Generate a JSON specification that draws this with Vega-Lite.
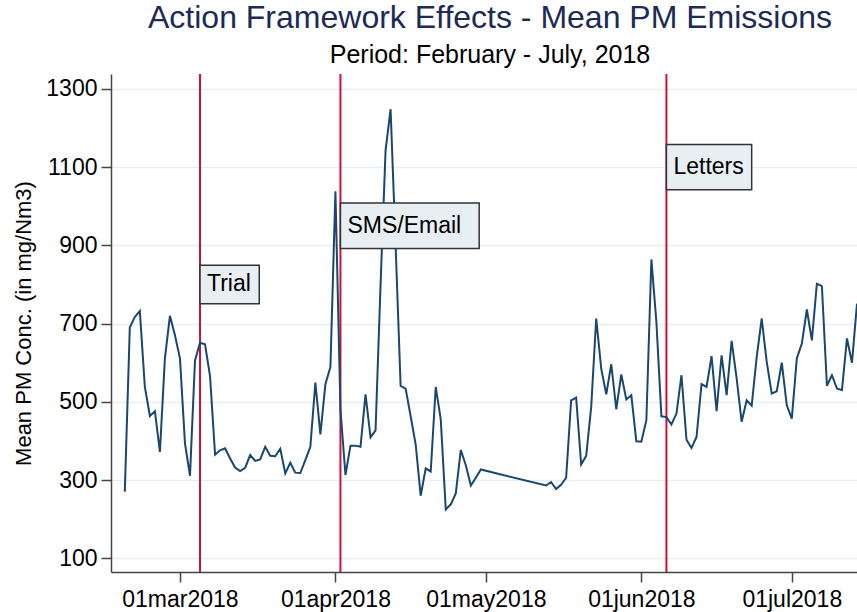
{
  "$schema": "https://vega.github.io/schema/vega-lite/v6.json",
  "width": 746,
  "height": 498,
  "autosize": {"type": "none"},
  "padding": {"left": 111, "top": 74, "right": 0, "bottom": 40},
  "background": "white",
  "config": {"view": {"stroke": null}, "font": "Liberation Sans"},
  "title": {
    "text": "Action Framework Effects - Mean PM Emissions",
    "subtitle": "Period: February - July, 2018",
    "fontSize": 32,
    "fontWeight": "normal",
    "color": "#1c2a55",
    "subtitleFontSize": 25,
    "subtitleColor": "#000000",
    "subtitlePadding": 8,
    "anchor": "middle",
    "offset": 4,
    "dx": 6
  },
  "datasets": {
    "pm": [
      {"date": "2018-02-18", "pm": 270}, {"date": "2018-02-19", "pm": 690}, {"date": "2018-02-20", "pm": 717},
      {"date": "2018-02-21", "pm": 732}, {"date": "2018-02-22", "pm": 538}, {"date": "2018-02-23", "pm": 464},
      {"date": "2018-02-24", "pm": 476}, {"date": "2018-02-25", "pm": 372}, {"date": "2018-02-26", "pm": 611},
      {"date": "2018-02-27", "pm": 720}, {"date": "2018-02-28", "pm": 670}, {"date": "2018-03-01", "pm": 611},
      {"date": "2018-03-02", "pm": 394}, {"date": "2018-03-03", "pm": 311}, {"date": "2018-03-04", "pm": 606},
      {"date": "2018-03-05", "pm": 651}, {"date": "2018-03-06", "pm": 647}, {"date": "2018-03-07", "pm": 565},
      {"date": "2018-03-08", "pm": 365}, {"date": "2018-03-09", "pm": 376}, {"date": "2018-03-10", "pm": 381},
      {"date": "2018-03-11", "pm": 355}, {"date": "2018-03-12", "pm": 332}, {"date": "2018-03-13", "pm": 323},
      {"date": "2018-03-14", "pm": 331}, {"date": "2018-03-15", "pm": 364}, {"date": "2018-03-16", "pm": 349},
      {"date": "2018-03-17", "pm": 353}, {"date": "2018-03-18", "pm": 385}, {"date": "2018-03-19", "pm": 362},
      {"date": "2018-03-20", "pm": 361}, {"date": "2018-03-21", "pm": 380}, {"date": "2018-03-22", "pm": 317},
      {"date": "2018-03-23", "pm": 344}, {"date": "2018-03-24", "pm": 319}, {"date": "2018-03-25", "pm": 318},
      {"date": "2018-03-26", "pm": 351}, {"date": "2018-03-27", "pm": 385}, {"date": "2018-03-28", "pm": 549},
      {"date": "2018-03-29", "pm": 417}, {"date": "2018-03-30", "pm": 545}, {"date": "2018-03-31", "pm": 589},
      {"date": "2018-04-01", "pm": 1038}, {"date": "2018-04-02", "pm": 480}, {"date": "2018-04-03", "pm": 313},
      {"date": "2018-04-04", "pm": 388}, {"date": "2018-04-05", "pm": 388}, {"date": "2018-04-06", "pm": 385},
      {"date": "2018-04-07", "pm": 519}, {"date": "2018-04-08", "pm": 409}, {"date": "2018-04-09", "pm": 427},
      {"date": "2018-04-10", "pm": 800}, {"date": "2018-04-11", "pm": 1143}, {"date": "2018-04-12", "pm": 1248},
      {"date": "2018-04-13", "pm": 900}, {"date": "2018-04-14", "pm": 541}, {"date": "2018-04-15", "pm": 534},
      {"date": "2018-04-16", "pm": 463}, {"date": "2018-04-17", "pm": 391}, {"date": "2018-04-18", "pm": 260},
      {"date": "2018-04-19", "pm": 330}, {"date": "2018-04-20", "pm": 322}, {"date": "2018-04-21", "pm": 538},
      {"date": "2018-04-22", "pm": 455}, {"date": "2018-04-23", "pm": 225}, {"date": "2018-04-24", "pm": 238},
      {"date": "2018-04-25", "pm": 266}, {"date": "2018-04-26", "pm": 377}, {"date": "2018-04-27", "pm": 338},
      {"date": "2018-04-28", "pm": 286}, {"date": "2018-04-29", "pm": 306}, {"date": "2018-04-30", "pm": 327},
      {"date": "2018-05-13", "pm": 286}, {"date": "2018-05-14", "pm": 295}, {"date": "2018-05-15", "pm": 277},
      {"date": "2018-05-16", "pm": 288}, {"date": "2018-05-17", "pm": 306}, {"date": "2018-05-18", "pm": 504},
      {"date": "2018-05-19", "pm": 511}, {"date": "2018-05-20", "pm": 340}, {"date": "2018-05-21", "pm": 362},
      {"date": "2018-05-22", "pm": 487}, {"date": "2018-05-23", "pm": 713}, {"date": "2018-05-24", "pm": 585},
      {"date": "2018-05-25", "pm": 519}, {"date": "2018-05-26", "pm": 596}, {"date": "2018-05-27", "pm": 481},
      {"date": "2018-05-28", "pm": 570}, {"date": "2018-05-29", "pm": 506}, {"date": "2018-05-30", "pm": 517},
      {"date": "2018-05-31", "pm": 399}, {"date": "2018-06-01", "pm": 398}, {"date": "2018-06-02", "pm": 453},
      {"date": "2018-06-03", "pm": 864}, {"date": "2018-06-04", "pm": 704}, {"date": "2018-06-05", "pm": 463},
      {"date": "2018-06-06", "pm": 461}, {"date": "2018-06-07", "pm": 442}, {"date": "2018-06-08", "pm": 470},
      {"date": "2018-06-09", "pm": 568}, {"date": "2018-06-10", "pm": 403}, {"date": "2018-06-11", "pm": 382},
      {"date": "2018-06-12", "pm": 410}, {"date": "2018-06-13", "pm": 545}, {"date": "2018-06-14", "pm": 538},
      {"date": "2018-06-15", "pm": 617}, {"date": "2018-06-16", "pm": 476}, {"date": "2018-06-17", "pm": 619},
      {"date": "2018-06-18", "pm": 517}, {"date": "2018-06-19", "pm": 656}, {"date": "2018-06-20", "pm": 560},
      {"date": "2018-06-21", "pm": 449}, {"date": "2018-06-22", "pm": 504}, {"date": "2018-06-23", "pm": 490},
      {"date": "2018-06-24", "pm": 615}, {"date": "2018-06-25", "pm": 713}, {"date": "2018-06-26", "pm": 602},
      {"date": "2018-06-27", "pm": 521}, {"date": "2018-06-28", "pm": 527}, {"date": "2018-06-29", "pm": 600},
      {"date": "2018-06-30", "pm": 491}, {"date": "2018-07-01", "pm": 457}, {"date": "2018-07-02", "pm": 611},
      {"date": "2018-07-03", "pm": 649}, {"date": "2018-07-04", "pm": 736}, {"date": "2018-07-05", "pm": 657},
      {"date": "2018-07-06", "pm": 802}, {"date": "2018-07-07", "pm": 796}, {"date": "2018-07-08", "pm": 541},
      {"date": "2018-07-09", "pm": 568}, {"date": "2018-07-10", "pm": 534}, {"date": "2018-07-11", "pm": 530},
      {"date": "2018-07-12", "pm": 662}, {"date": "2018-07-13", "pm": 600}, {"date": "2018-07-14", "pm": 751}
    ],
    "events": [
      {"label": "Trial", "start": "2018-03-05T00:00:00Z", "box_end": "2018-03-16T19:30:00Z", "y_mid": 800, "y_lo": 751, "y_hi": 849},
      {"label": "SMS/Email", "start": "2018-04-02T00:00:00Z", "box_end": "2018-04-29T16:00:00Z", "y_mid": 950, "y_lo": 892, "y_hi": 1008},
      {"label": "Letters", "start": "2018-06-06T00:00:00Z", "box_end": "2018-06-23T00:00:00Z", "y_mid": 1100, "y_lo": 1042, "y_hi": 1158}
    ]
  },
  "layer": [
    {
      "data": {"name": "events"},
      "mark": {"type": "rule", "color": "#cc1139", "strokeWidth": 2},
      "encoding": {
        "x": {
          "field": "start", "type": "temporal",
          "scale": {"type": "utc", "domain": [{"year": 2018, "month": 2, "date": 15, "hours": 6, "utc": true}, {"year": 2018, "month": 7, "date": 14, "utc": true}]},
          "axis": {
            "title": null,
            "values": [
              {"year": 2018, "month": 3, "date": 1, "utc": true},
              {"year": 2018, "month": 4, "date": 1, "utc": true},
              {"year": 2018, "month": 5, "date": 1, "utc": true},
              {"year": 2018, "month": 6, "date": 1, "utc": true},
              {"year": 2018, "month": 7, "date": 1, "utc": true}
            ],
            "labelExpr": "lower(utcFormat(datum.value, '%d%b%Y'))",
            "labelFontSize": 23,
            "labelColor": "#000000",
            "labelPadding": 6,
            "tickSize": 10,
            "tickColor": "#444444",
            "tickWidth": 1.5,
            "domainColor": "#444444",
            "domainWidth": 1.5,
            "grid": false,
            "labelFlush": false,
            "labelOverlap": false
          }
        }
      }
    },
    {
      "data": {"name": "pm"},
      "mark": {"type": "line", "color": "#1a476f", "strokeWidth": 2},
      "encoding": {
        "x": {"field": "date", "type": "temporal", "axis": {"title": null}},
        "y": {
          "field": "pm", "type": "quantitative",
          "scale": {"domain": [65, 1338], "nice": false, "zero": false},
          "axis": {
            "title": "Mean PM Conc. (in mg/Nm3)",
            "titleFontSize": 22,
            "titleFontWeight": "normal",
            "titleColor": "#000000",
            "titlePadding": 10,
            "values": [100, 300, 500, 700, 900, 1100, 1300],
            "format": "d",
            "labelFontSize": 23,
            "labelColor": "#000000",
            "labelPadding": 4,
            "tickSize": 10,
            "tickColor": "#444444",
            "tickWidth": 1.5,
            "domainColor": "#444444",
            "domainWidth": 1.5,
            "grid": true,
            "gridColor": "#e8eef2",
            "gridWidth": 1.5
          }
        }
      }
    },
    {
      "data": {"name": "events"},
      "mark": {"type": "rect", "fill": "#e8eff2", "stroke": "#333333", "strokeWidth": 1.5},
      "encoding": {
        "x": {"field": "start", "type": "temporal"},
        "x2": {"field": "box_end"},
        "y": {"field": "y_lo", "type": "quantitative"},
        "y2": {"field": "y_hi"}
      }
    },
    {
      "data": {"name": "events"},
      "mark": {"type": "text", "align": "left", "baseline": "middle", "dx": 7, "fontSize": 23, "color": "#000000"},
      "encoding": {
        "x": {"field": "start", "type": "temporal"},
        "y": {"field": "y_mid", "type": "quantitative"},
        "text": {"field": "label"}
      }
    }
  ]
}
